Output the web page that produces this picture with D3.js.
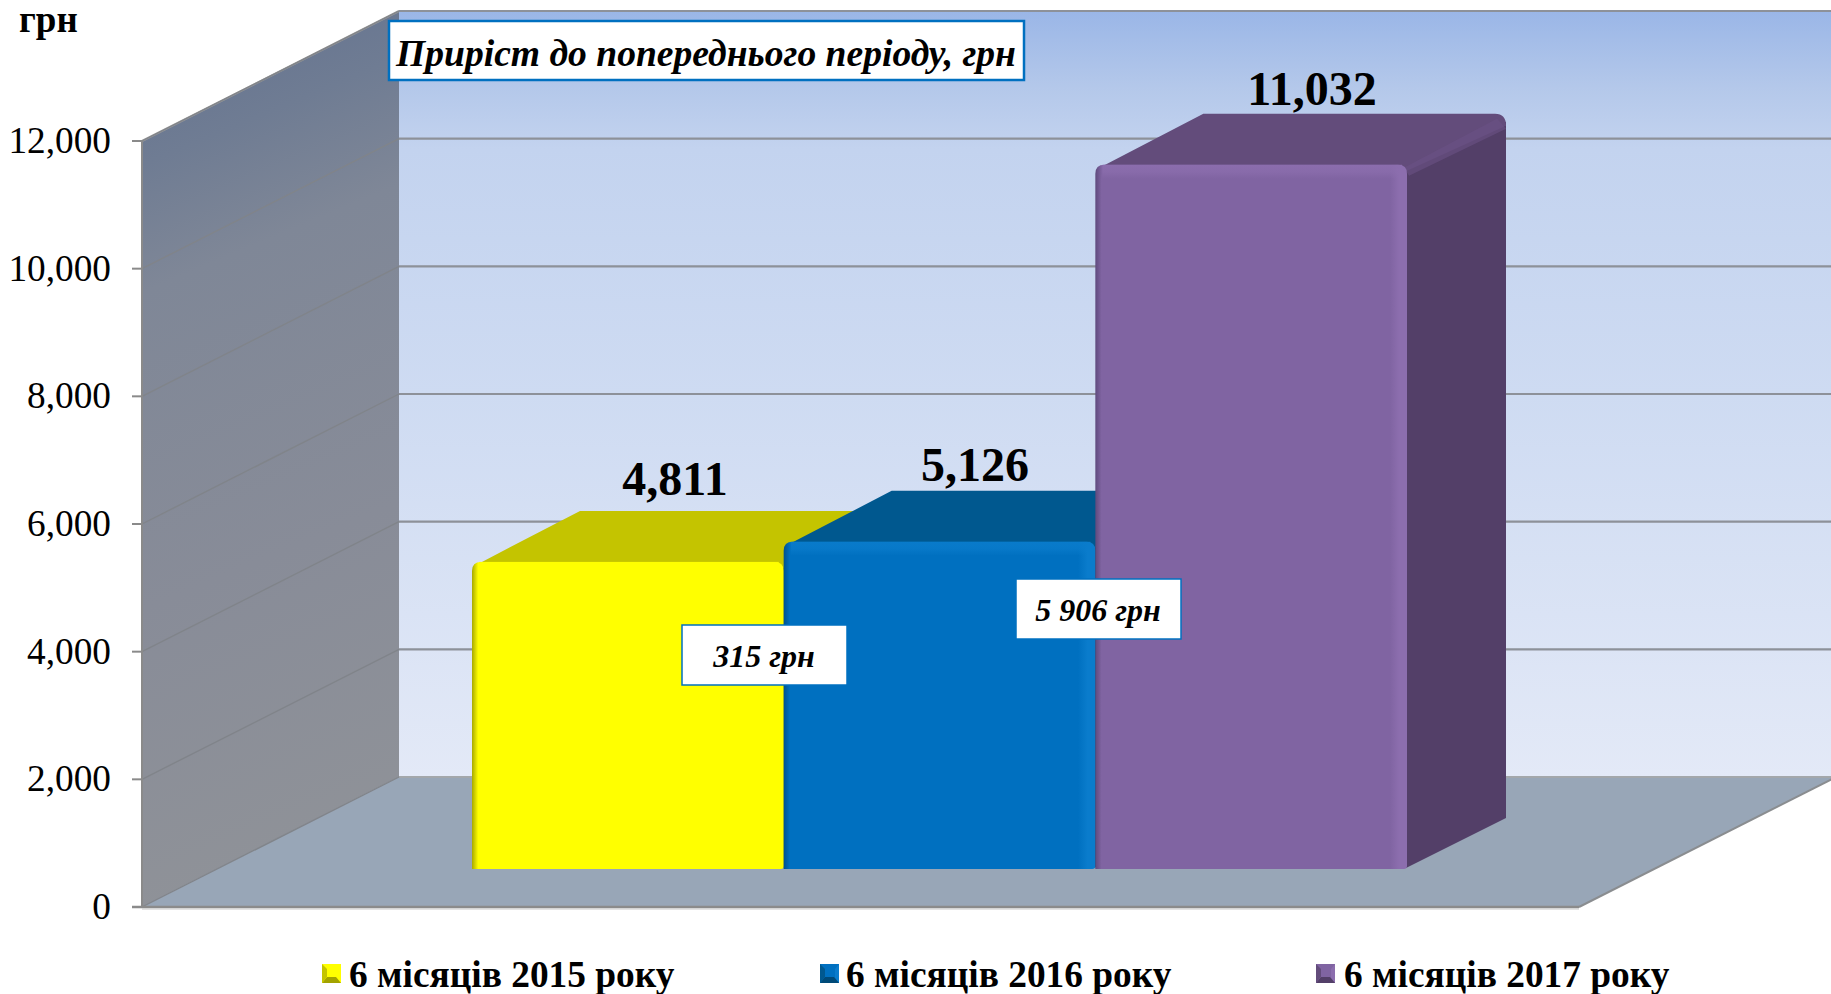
<!DOCTYPE html>
<html><head><meta charset="utf-8">
<script src="https://cdn.jsdelivr.net/npm/d3@7"></script>
<style>html,body{margin:0;padding:0;background:#fff;overflow:hidden}svg{display:block}text{font-family:"Liberation Serif",serif;fill:#000}</style>
</head><body><svg id="c" width="1831" height="994"></svg>
<script>
const categories = ["6 місяців 2015 року","6 місяців 2016 року","6 місяців 2017 року"];
const values = [4811,5126,11032];
const valueLabels = ["4,811","5,126","11,032"];
const tickValues = [0,2000,4000,6000,8000,10000,12000];
const frontColors = ["#ffff00","#0070c0","#8064a2"];
const topColors = ["#c4c400","#00588f","#634c7b"];
const sideColors = ["#a3a300","#004a78","#533f68"];
const lightColors = ["#ffff00","#0a7ccc","#8c6eae"];
const darkColors = ["#a8a800","#00528c","#5f4a7d"];
const callouts = [{t:"315 грн",x:682,y:625},{t:"5 906 грн",x:1016,y:579}];

const svg = d3.select("#c"), defs = svg.append("defs");
const y = d3.scaleLinear().domain([0,12000]).range([907,141]);
const x = d3.scaleBand().domain(categories).range([472,1407]);
const wallDX = 257, wallDY = 130, left = 142, right = 1579;
const barBase = 869, barDX = 100, barDY = 51;
const barH = v => y(0)-y(v);

function grad(id,stops,x1=0,y1=0,x2=0,y2=1){
  const g = defs.append("linearGradient").attr("id",id)
    .attr("x1",x1).attr("y1",y1).attr("x2",x2).attr("y2",y2);
  stops.forEach(s=>g.append("stop").attr("offset",s[0]).attr("stop-color",s[1]).attr("stop-opacity",s[2]===undefined?1:s[2]));
}
grad("back",[[0,"#9ab6e7"],[0.1,"#b4c8ea"],[0.18,"#c3d3ef"],[0.5,"#cedbf2"],[1,"#e3e9f7"]]);
grad("side",[[0,"#62718f"],[0.16,"#6f7c93"],[0.3,"#7f8797"],[0.65,"#888c98"],[1,"#8f9298"]],0.08,0,0.2,1);

const poly = pts => "M"+pts.map(p=>p.join(",")).join("L")+"Z";

// back wall
svg.append("rect").attr("x",left+wallDX).attr("y",y(12000)-wallDY)
  .attr("width",1831-left-wallDX).attr("height",y(0)-y(12000)).attr("fill","url(#back)");
// floor
svg.append("path").attr("d",poly([[left,y(0)],[right,y(0)],[right+wallDX,y(0)-wallDY],[left+wallDX,y(0)-wallDY]]))
  .attr("fill","#98a6b7");
svg.append("path").attr("d",`M${right},${y(0)}L${right+wallDX},${y(0)-wallDY}`)
  .attr("stroke","#8a8d90").attr("stroke-width",2).attr("fill","none");
// side wall
svg.append("path").attr("d",poly([[left,y(0)],[left,y(12000)],[left+wallDX,y(12000)-wallDY],[left+wallDX,y(0)-wallDY]]))
  .attr("fill","url(#side)");
svg.append("path").attr("d",`M${left},${y(12000)}L${left+wallDX},${y(12000)-wallDY}`)
  .attr("stroke","#9a9a9a").attr("stroke-width",2).attr("fill","none");
// grid
tickValues.forEach(v=>{
  svg.append("line").attr("x1",left+wallDX).attr("x2",1831).attr("y1",y(v)-wallDY).attr("y2",y(v)-wallDY)
    .attr("stroke",v?"#8d9199":"#a3a7ab").attr("stroke-width",2.2);
  svg.append("line").attr("x1",left).attr("x2",left+wallDX).attr("y1",y(v)).attr("y2",y(v)-wallDY)
    .attr("stroke","#80848a").attr("stroke-width",1.4);
  svg.append("line").attr("x1",left-10).attr("x2",left).attr("y1",y(v)).attr("y2",y(v))
    .attr("stroke","#8a8a8a").attr("stroke-width",2);
  svg.append("text").attr("x",111).attr("y",y(v)+12).attr("text-anchor","end")
    .attr("font-size",37.3).text(d3.format(",")(v));
});
svg.append("line").attr("x1",left).attr("x2",left).attr("y1",y(0)).attr("y2",y(12000)).attr("stroke","#8a8a8a").attr("stroke-width",2);
svg.append("line").attr("x1",132).attr("x2",right).attr("y1",y(0)).attr("y2",y(0)).attr("stroke","#8b8b8b").attr("stroke-width",2.5);
svg.append("line").attr("x1",left).attr("x2",right).attr("y1",y(0)+2).attr("y2",y(0)+2).attr("stroke","#c8c8c8").attr("stroke-width",1.2);

// bars
values.forEach((v,i)=>{
  const cat = categories[i], x0 = x(cat), x1 = x0+x.bandwidth(), top = barBase-barH(v), r = 9;
  grad("h"+i,[[0,darkColors[i]],[0.02,frontColors[i]],[0.945,frontColors[i]],[0.975,lightColors[i]],[1,lightColors[i]]],0,0,1,0);
  grad("v"+i,[[0,lightColors[i],0.9],[0.5,lightColors[i],0.7],[1,lightColors[i],0]]);
  // side
  svg.append("path").attr("d",poly([[x1-1,top+5],[x1+barDX-1,top-barDY+8],[x1+barDX-1,barBase-barDY],[x1-1,barBase-1]]))
    .attr("fill",sideColors[i]);
  // top
  const t = d3.path();
  t.moveTo(x0+8,top+1); t.lineTo(x0+8+barDX,top-barDY);
  t.lineTo(x1+barDX-12,top-barDY);
  t.quadraticCurveTo(x1+barDX-1,top-barDY,x1+barDX-1,top-barDY+12);
  t.lineTo(x1,top+6); t.lineTo(x1-6,top+1); t.closePath();
  svg.append("path").attr("d",t.toString()).attr("fill",topColors[i]);
  if(i===2){
    svg.append("path").attr("d",poly([[x1-3,top+3],[x1+barDX-10,top-barDY+5],[x1+barDX-1,top-barDY+15],[x1+2,top+11]]))
      .attr("fill","#6a5186").attr("opacity",0.6);
  }
  // front
  const f = d3.path();
  f.moveTo(x0,barBase); f.lineTo(x0,top+r); f.quadraticCurveTo(x0,top,x0+r,top);
  f.lineTo(x1-r,top); f.quadraticCurveTo(x1,top,x1,top+r); f.lineTo(x1,barBase-3);
  f.quadraticCurveTo(x1,barBase,x1-3,barBase); f.closePath();
  svg.append("path").attr("d",f.toString()).attr("fill",`url(#h${i})`);
  svg.append("rect").attr("x",x0+7).attr("y",top).attr("width",x.bandwidth()-12).attr("height",14)
    .attr("fill",`url(#v${i})`);
});

// value labels
const labelCenters = [675,975,1312], labelBase = [495,481,105];
values.forEach((v,i)=>{
  svg.append("text").attr("x",labelCenters[i]).attr("y",labelBase[i]).attr("text-anchor","middle")
    .attr("font-size",48).attr("font-weight","bold").text(valueLabels[i]);
});

// title box and callouts
svg.append("rect").attr("x",389).attr("y",21).attr("width",635).attr("height",59)
  .attr("fill","#fff").attr("stroke","#0070c0").attr("stroke-width",2.5);
svg.append("text").attr("x",396).attr("y",66).attr("font-size",37.6).attr("font-weight","bold").attr("font-style","italic")
  .text("Приріст до попереднього періоду, грн");
callouts.forEach(c=>{
  svg.append("rect").attr("x",c.x).attr("y",c.y).attr("width",165).attr("height",60)
    .attr("fill","#fff").attr("stroke","#0070c0").attr("stroke-width",1.5);
  svg.append("text").attr("x",c.x+82).attr("y",c.y+42).attr("text-anchor","middle")
    .attr("font-size",32).attr("font-weight","bold").attr("font-style","italic").text(c.t);
});

// unit
svg.append("text").attr("x",19).attr("y",32).attr("font-size",37).attr("font-weight","bold").text("грн");

// legend
const legX = [322,820,1316], legText = [349,846,1344];
categories.forEach((c,i)=>{
  const a=legX[i], s=19, b=964;
  svg.append("rect").attr("x",a).attr("y",b).attr("width",s).attr("height",s).attr("fill",frontColors[i]);
  svg.append("path").attr("d",poly([[a+s,b],[a+s,b+s],[a+s-4,b+s-5],[a+s-4,b+5]])).attr("fill",lightColors[i]);
  svg.append("path").attr("d",poly([[a,b+s],[a+s,b+s],[a+s-5,b+s-6],[a+5,b+s-6]])).attr("fill",sideColors[i]);
  svg.append("path").attr("d",poly([[a,b],[a,b+s],[a+5,b+s-6],[a+5,b+5]])).attr("fill",topColors[i]);
  svg.append("text").attr("x",legText[i]).attr("y",987).attr("font-size",37.4).attr("font-weight","bold").text(c);
});
</script></body></html>
